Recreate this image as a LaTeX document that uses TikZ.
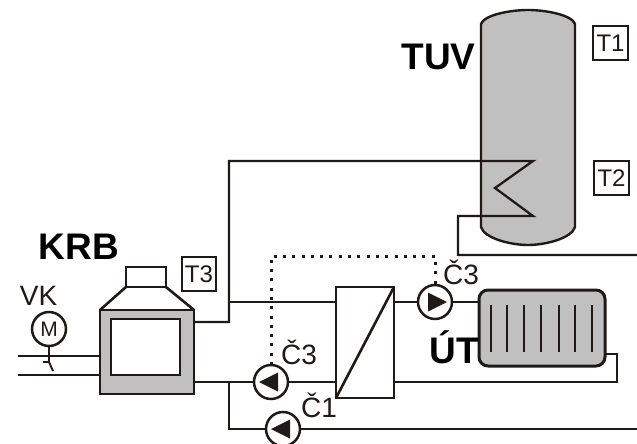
\documentclass[tikz,border=0pt]{standalone}
\usepackage{fontspec}
\setmainfont{Liberation Sans}
\definecolor{tankgrey}{HTML}{C0C0C0}
\definecolor{ink}{HTML}{1F1A17}
\tikzset{
  pipe/.style={draw=ink,line width=2.3pt,line join=miter},
  thinpipe/.style={draw=ink,line width=1.9pt},
  thickpipe/.style={draw=ink,line width=2.9pt},
  signal/.style={draw=ink,line width=3pt,dash pattern=on 3pt off 6.3pt},
  box/.style={draw=ink,line width=2.6pt,inner sep=0pt,outer sep=0pt},
  pump/.style={circle,draw=ink,line width=2.5pt,fill=white,minimum size=34pt,inner sep=0pt,outer sep=0pt},
  tempbox/.style={box,fill=white,font=\fontsize{24}{24}\selectfont,text=ink},
  title/.style={inner sep=0pt,font=\bfseries\fontsize{37}{37}\selectfont,text=black},
  lab/.style={inner sep=0pt,font=\fontsize{28}{28}\selectfont,text=ink}
}
\newcommand{\pumpleft}[1]{\fill[ink,shift={(#1.center)}] (-12,0) -- (7,-9.5) -- (7,9.5) -- cycle;}
\newcommand{\pumpright}[1]{\fill[ink,shift={(#1.center)}] (12,0) -- (-7,-9.5) -- (-7,9.5) -- cycle;}
\begin{document}
\begin{tikzpicture}[x=1pt,y=-1pt]
\useasboundingbox (0,0) rectangle (637,444);
% tank
\draw[ink,line width=2.4pt,fill=tankgrey] (481,24) .. controls (484,15) and (510,10) .. (528,10) .. controls (546,10) and (572,15) .. (575,24) -- (575,227) .. controls (572,238) and (546,245) .. (528,245) .. controls (510,245) and (484,238) .. (481,227) -- cycle;
% boiler
\node[box,fill=tankgrey,minimum width=94pt,minimum height=84pt] (boiler) at (147,352) {};
\node[box,fill=white,minimum width=69pt,minimum height=56pt] (door) at (145.5,347) {};
\node[box,fill=white,minimum width=40pt,minimum height=20pt] (chimney) at (146,277) {};
\draw[ink,line width=2.6pt] (boiler.north west) -- (chimney.south west) (chimney.south east) -- (boiler.north east);
% heat exchanger
\node[box,fill=white,minimum width=58pt,minimum height=111pt] (hx) at (365,342.5) {};
\draw[ink,line width=2.6pt] (hx.south west) -- (hx.north east);
% radiator
\node[box,fill=tankgrey,rounded corners=9pt,line width=3pt,minimum width=126pt,minimum height=76pt] (rad) at (542,328) {};
\foreach \x in {491,507,524,541,559,575,592} \draw[ink,line width=2.9pt] (\x,305) -- (\x,352);
% pumps
\node[pump] (p1) at (271,382) {};
\node[pump] (p2) at (283,429) {};
\node[pump] (p3) at (435,302) {};
% motor
\node[circle,draw=ink,line width=2.5pt,minimum size=34pt,inner sep=0pt,outer sep=0pt,font=\fontsize{21}{21}\selectfont,text=ink] (motor) at (49,329) {M};
% free ends
\coordinate (a1) at (18,356);
\coordinate (a2) at (18,375);
\coordinate (b1) at (100,356);
\coordinate (b2) at (100,375);
\coordinate (out) at (194,322);
\coordinate (ret) at (194,382);
\coordinate (riser) at (229,322);
\coordinate (top) at (229,161);
\coordinate (c1) at (533,161);
\coordinate (c2) at (495,188);
\coordinate (c3) at (533,216);
\coordinate (c4) at (458,216);
\coordinate (c5) at (458,255);
\coordinate (e1) at (637,255);
\coordinate (e2) at (637,429);
\coordinate (split) at (229,302);
\coordinate (hxa) at (336,302);
\coordinate (hxb) at (336,382);
\coordinate (hxc) at (394,302);
\coordinate (hxd) at (394,382);
\coordinate (radin) at (479,302);
\coordinate (radout) at (605,354);
\coordinate (corner) at (617,354);
\coordinate (corner2) at (617,382);
\coordinate (tee) at (229,382);
\coordinate (tee2) at (229,429);
\coordinate (stem) at (49,362);
\coordinate (v1) at (43,362);
\coordinate (v2) at (53,371);
\coordinate (d1) at (271,256);
\coordinate (d2) at (435,256);
% pipes
\draw[thickpipe] (a1) -- (b1) (a2) -- (b2);
\draw[thinpipe] (motor.south) -- (stem);
\draw[thinpipe] (v1) -- (stem) -- (v2);
\draw[pipe] (out) -- (riser) -- (top) -- (c1) -- (c2) -- (c3) -- (c4) -- (c5) -- (e1);
\draw[pipe] (split) -- (hxa);
\draw[pipe] (ret) -- (p1.west);
\draw[pipe] (p1.east) -- (hxb);
\draw[thickpipe] (tee) -- (tee2) -- (p2.west);
\draw[pipe] (p2.east) -- (e2);
\draw[thickpipe] (hxc) -- (p3.west);
\draw[thinpipe] (p3.east) -- (radin);
\draw[pipe] (radout) -- (corner) -- (corner2) -- (hxd);
\draw[signal] (p1.north) -- (d1) -- (d2) -- (p3.north);
% pump arrows
\pumpleft{p1}
\pumpleft{p2}
\pumpright{p3}
% temperature boxes
\node[tempbox,minimum width=35pt,minimum height=34pt] (t1) at (610.5,43) {T1};
\node[tempbox,minimum width=35pt,minimum height=34pt] (t2) at (611.5,178) {T2};
\node[tempbox,minimum width=34pt,minimum height=34pt] (t3) at (199,274) {T3};
% labels
\node[title] (tuv) at (438.5,57) {TUV};
\node[title] (krb) at (79,247) {KRB};
\node[title,anchor=base east] (ut) at (479,363) {ÚT};
\node[lab] (vk) at (38.5,296) {VK};
\node[lab,anchor=base west] (lc3a) at (281,364) {Č3};
\node[lab,anchor=base west] (lc1) at (301,417) {Č1};
\node[lab,anchor=base west] (lc3b) at (443,284) {Č3};
\end{tikzpicture}
\end{document}
